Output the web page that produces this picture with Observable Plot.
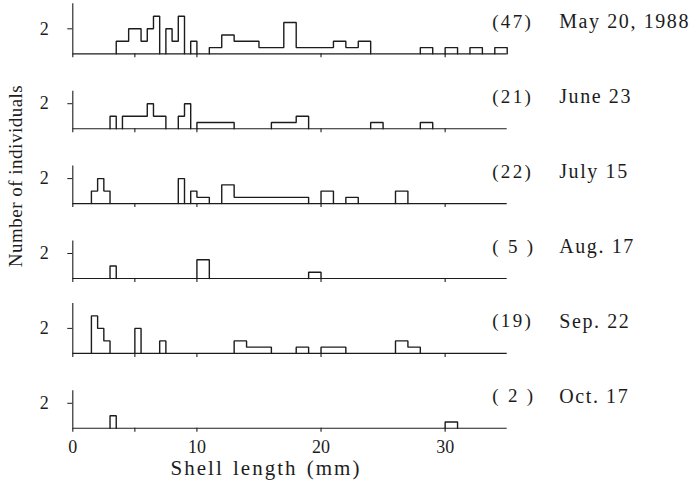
<!DOCTYPE html>
<html>
<head>
<meta charset="utf-8">
<script src="https://cdn.jsdelivr.net/npm/d3@7"></script>
<script src="https://cdn.jsdelivr.net/npm/@observablehq/plot@0.6"></script>
<style>
  body { margin: 0; background: #fff; }
  #chart { width: 697px; height: 495px; }
</style>
</head>
<body>
<div id="chart"></div>
<script>
// Sampling dates, sample sizes and the height of each panel's vertical axis
const samples = ["May 20, 1988", "June 23", "July 15", "Aug. 17", "Sep. 22", "Oct. 17"];
const sampleSizes = [47, 21, 22, 5, 19, 2];
const axisTops = [4, 3, 3, 3, 4, 3];

// Axis ticks
const xTicks = [0, 5, 10, 20, 30];
const xTickLabels = [0, 10, 20, 30];
const yTicks = [2];

// Shell-length classes for each date: [from mm, to mm, individuals per 0.5 mm]
const binsMay = [
  [3.5, 4.5, 1], [4.5, 5.5, 2], [5.5, 6, 1], [6, 6.5, 2], [6.5, 7, 3],
  [7.5, 8, 2], [8, 8.5, 1], [8.5, 9, 3],
  [9.5, 10, 1],
  [11, 12, 0.5], [12, 13, 1.5], [13, 15, 1], [15, 17, 0.5], [17, 18, 2.5],
  [18, 21, 0.5], [21, 22, 1], [22, 23, 0.5], [23, 24, 1],
  [28, 29, 0.5], [30, 31, 0.5], [32, 33, 0.5], [34, 35, 0.5]
];
const binsJun = [
  [3, 3.5, 1],
  [4, 6, 1], [6, 6.5, 2], [6.5, 7.5, 1],
  [8.5, 9, 1], [9, 9.5, 2],
  [10, 13, 0.5],
  [16, 18, 0.5], [18, 19, 1],
  [24, 25, 0.5],
  [28, 29, 0.5]
];
const binsJul = [
  [1.5, 2, 1], [2, 2.5, 2], [2.5, 3, 1],
  [8.5, 9, 2],
  [9.5, 10, 1], [10, 11, 0.5],
  [12, 13, 1.5], [13, 19, 0.5],
  [20, 21, 1],
  [22, 23, 0.5],
  [26, 27, 1]
];
const binsAug = [
  [3, 3.5, 1],
  [10, 11, 1.5],
  [19, 20, 0.5]
];
const binsSep = [
  [1.5, 2, 3], [2, 2.5, 2], [2.5, 3, 1],
  [5, 5.5, 2],
  [7, 7.5, 1],
  [13, 14, 1], [14, 16, 0.5],
  [18, 19, 0.5],
  [20, 22, 0.5],
  [26, 27, 1], [27, 28, 0.5]
];
const binsOct = [
  [3, 3.5, 1],
  [30, 31, 0.5]
];
const binsBySample = [binsMay, binsJun, binsJul, binsAug, binsSep, binsOct];

// Trace every run of adjacent classes as one stepped outline
const outline = [];
binsBySample.forEach((bins, i) => {
  const sample = samples[i];
  let run = null, prevEnd = null;
  bins.forEach(([lo, hi, n], j) => {
    if (lo !== prevEnd) {
      if (run !== null) outline.push({sample, run, x: prevEnd, y: 0});
      run = `${i}-${j}`;
      outline.push({sample, run, x: lo, y: 0});
    }
    outline.push({sample, run, x: lo, y: n}, {sample, run, x: hi, y: n});
    prevEnd = hi;
  });
  outline.push({sample, run, x: prevEnd, y: 0});
});

const panelInfo = samples.map((sample, i) => ({sample, n: sampleSizes[i], top: axisTops[i]}));

const ink = "#1c1c1c";
const serif = "Liberation Serif, Times New Roman, serif";

const plot = Plot.plot({
  width: 697,
  height: 495,
  marginLeft: 72.3,
  marginRight: 190.3,
  marginTop: 3.3,
  marginBottom: 67.2,
  x: {domain: [0, 35]},
  y: {domain: [0, 4]},
  fy: {domain: samples, paddingInner: 0.332, paddingOuter: 0, round: false, axis: null, label: null},
  style: {fontFamily: serif, color: ink, background: "#fff"},
  marks: [
    // baseline of each panel
    Plot.ruleY([0], {stroke: ink, strokeWidth: 1.1}),
    // vertical axis line of each panel
    Plot.ruleX(panelInfo, {x: 0, y1: 0, y2: "top", fy: "sample", stroke: ink, strokeWidth: 1.1}),
    // tick marks under every baseline
    Plot.axisX({ticks: xTicks, tickSize: 4, text: null, label: null, facetAnchor: null, stroke: ink, strokeWidth: 1.1}),
    // tick labels under the last panel
    Plot.axisX({ticks: xTickLabels, tickSize: 0, tickPadding: 12, label: null, fontSize: 18, fill: ink, fontFamily: serif}),
    Plot.axisY({ticks: yTicks, tickFormat: d => String(d), tickSize: 5, tickPadding: 19, label: null,
                fontSize: 18, facetAnchor: null, stroke: ink, fill: ink, fontFamily: serif}),
    // histogram outlines
    Plot.line(outline, {x: "x", y: "y", z: "run", fy: "sample", stroke: ink, strokeWidth: 1.4, strokeLinejoin: "miter"}),
    // sample size
    Plot.text(panelInfo, {
      fy: "sample", x: 35, y: 0, dx: -15, dy: -32,
      text: d => d.n < 10 ? `( ${d.n} )` : `(${d.n})`,
      textAnchor: "start", fontSize: 19, fontFamily: serif, fill: ink,
      className: "sample-size"
    }),
    // sampling date
    Plot.text(panelInfo, {
      fy: "sample", x: 35, y: 0, dx: 52, dy: -32,
      text: "sample",
      textAnchor: "start", fontSize: 20, fontFamily: serif, fill: ink,
      className: "sample-date"
    })
  ]
});

const svg = d3.select(plot);
// letter spacing for the panel labels
svg.selectAll(".sample-size text").attr("letter-spacing", 2.3);
svg.selectAll(".sample-date text").attr("letter-spacing", 1.6);

// axis titles
svg.append("text")
  .attr("transform", "translate(15,176) rotate(-90)")
  .attr("text-anchor", "middle")
  .attr("dominant-baseline", "central")
  .attr("font-family", serif)
  .attr("font-size", 19)
  .attr("letter-spacing", 0.5)
  .attr("fill", ink)
  .text("Number of individuals");
svg.append("text")
  .attr("x", 266)
  .attr("y", 468)
  .attr("text-anchor", "middle")
  .attr("dominant-baseline", "central")
  .attr("font-family", serif)
  .attr("font-size", 21)
  .attr("letter-spacing", 2)
  .attr("word-spacing", 2)
  .attr("fill", ink)
  .text("Shell length (mm)");

document.getElementById("chart").appendChild(plot);
</script>
</body>
</html>
